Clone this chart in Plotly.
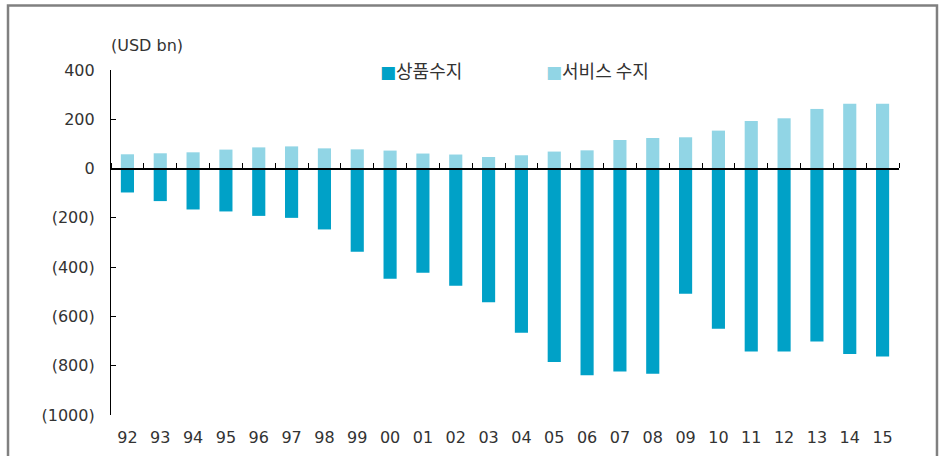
import plotly.graph_objects as go

years = ["92", "93", "94", "95", "96", "97", "98", "99", "00", "01", "02", "03",
         "04", "05", "06", "07", "08", "09", "10", "11", "12", "13", "14", "15"]
goods = [-97, -132, -166, -174, -192, -200, -247, -338, -447, -423, -476, -542,
         -666, -785, -839, -823, -833, -508, -650, -742, -742, -702, -752, -763]
services = [58, 62, 66, 77, 86, 90, 82, 78, 73, 61, 57, 47,
            54, 69, 74, 116, 124, 127, 154, 193, 204, 242, 263, 263]
y_ticks = [400, 200, 0, -200, -400, -600, -800, -1000]
y_ticktext = ["400", "200", "0", "(200)", "(400)", "(600)", "(800)", "(1000)"]

name_goods = "상품수지"
name_services = "서비스 수지"
c_goods = "#00A1C7"
c_services = "#91D5E5"
FONT = "DejaVu Sans, Noto Sans CJK KR, sans-serif"
KFONT = "Noto Sans CJK KR, sans-serif"
TXT = "#333333"

fig = go.Figure()
fig.add_trace(go.Bar(x=years, y=goods, name=name_goods, marker_color=c_goods,
                     marker_line_width=0, width=0.4, showlegend=False))
fig.add_trace(go.Bar(x=years, y=services, name=name_services, marker_color=c_services,
                     marker_line_width=0, width=0.4, showlegend=False))
# empty helper trace so the zero-level category axis (with boundary ticks) is drawn
fig.add_trace(go.Scatter(x=years, y=[None] * len(years), xaxis="x2", mode="lines",
                         showlegend=False, hoverinfo="skip"))

ymin, ymax = -1000, 400
fig.update_layout(
    width=939, height=456,
    margin=dict(l=111, r=40, t=70, b=41),
    paper_bgcolor="white", plot_bgcolor="white",
    barmode="relative",
    font=dict(family=FONT, size=16, color=TXT),
    xaxis=dict(type="category", categoryorder="array", categoryarray=years,
               range=[-0.5, len(years) - 0.5], showline=False, ticks="",
               ticklabelstandoff=11, showgrid=False, zeroline=False, automargin=False,
               tickfont=dict(size=16, color=TXT)),
    xaxis2=dict(type="category", categoryorder="array", categoryarray=years,
                range=[-0.5, len(years) - 0.5], overlaying="x", anchor="free",
                position=(0 - ymin) / (ymax - ymin), side="top",
                showline=True, linecolor="black", linewidth=1.5,
                ticks="outside", tickson="boundaries", ticklen=5, tickcolor="black",
                tickwidth=1, showticklabels=False, showgrid=False, zeroline=False,
                automargin=False),
    yaxis=dict(range=[ymin, ymax], tickvals=y_ticks, ticktext=y_ticktext,
               showline=True, linecolor="black", linewidth=1.2,
               ticks="inside", ticklen=5, tickcolor="black",
               ticklabelstandoff=12, showgrid=False, zeroline=False, automargin=False,
               tickfont=dict(size=16, color=TXT)),
    shapes=[dict(type="rect", xref="paper", yref="paper",
                 x0=-0.1307, x1=1.0482, y0=-0.3, y1=1.1867,
                 line=dict(color="#808080", width=2.5), fillcolor="rgba(0,0,0,0)",
                 layer="below")],
    annotations=[
        dict(text="(USD bn)", xref="paper", yref="paper", x=-0.002, y=1.0701,
             xanchor="left", yanchor="middle", showarrow=False,
             font=dict(size=16, color=TXT)),
        dict(text=f'<span style="color:{c_goods};font-size:17px;font-family:DejaVu Sans">■</span>{name_goods}',
             xref="paper", yref="paper", x=0.339, y=1.0, xanchor="left",
             yanchor="middle", showarrow=False, font=dict(family=KFONT, size=18, color=TXT)),
        dict(text=f'<span style="color:{c_services};font-size:17px;font-family:DejaVu Sans">■</span>{name_services}',
             xref="paper", yref="paper", x=0.549, y=1.0, xanchor="left",
             yanchor="middle", showarrow=False, font=dict(family=KFONT, size=18, color=TXT)),
    ],
)

fig.write_html("out.html", config={"displayModeBar": False},
               post_script="document.body.style.margin='0px';")
